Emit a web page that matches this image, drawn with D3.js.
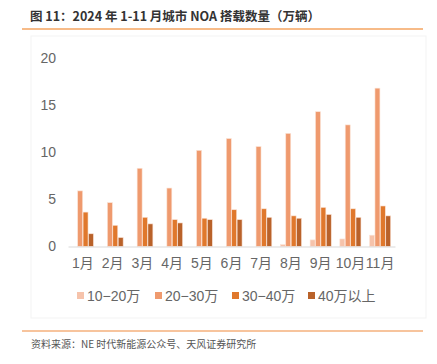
<!DOCTYPE html>
<html>
<head>
<meta charset="utf-8">
<script src="https://cdn.jsdelivr.net/npm/d3@7"></script>
<style>
  body { margin: 0; background: #fff; }
  svg { display: block; font-family: "Liberation Sans", Arial, "Noto Sans CJK SC", sans-serif; }
</style>
</head>
<body>
<svg id="chart" width="437" height="364"></svg>
<script>
const months = ["1月", "2月", "3月", "4月", "5月", "6月", "7月", "8月", "9月", "10月", "11月"];
const seriesNames = ["10−20万", "20−30万", "30−40万", "40万以上"];
const s10to20 = [0, 0, 0, 0, 0, 0, 0, 0.2, 0.7, 0.8, 1.2];
const s20to30 = [5.9, 4.65, 8.3, 6.2, 10.2, 11.45, 10.6, 12.0, 14.3, 12.9, 16.8];
const s30to40 = [3.65, 2.25, 3.1, 2.85, 3.0, 3.9, 4.0, 3.25, 4.15, 4.0, 4.3];
const s40plus = [1.35, 0.95, 2.4, 2.5, 2.85, 2.85, 3.1, 3.0, 3.4, 3.1, 3.25];
const yTicks = [0, 5, 10, 15, 20];
const colors = ["#f6c3ab", "#ef9a6e", "#e0782c", "#b9622a"];

const seriesVals = [s10to20, s20to30, s30to40, s40plus];
const svg = d3.select("#chart");
const textGray = "#666";
const mixedFont = "'Liberation Sans', Arial, 'Noto Sans CJK SC', sans-serif";

// title + rule
svg.append("text")
    .attr("x", 30).attr("y", 21)
    .attr("font-size", 12.5).attr("font-weight", "bold")
    .attr("fill", "#333")
    .attr("font-family", "'Noto Sans CJK SC', sans-serif")
    .text("图 11：2024 年 1-11 月城市 NOA 搭载数量（万辆）");
svg.append("line")
    .attr("x1", 22).attr("x2", 423).attr("y1", 29).attr("y2", 29)
    .attr("stroke", "#f5a460").attr("stroke-width", 1.5);

// faint chart area border
svg.append("rect")
    .attr("x", 31).attr("y", 36).attr("width", 395).attr("height", 282)
    .attr("fill", "none").attr("stroke", "#f3f3f3");

const x0 = d3.scaleBand().domain(months).range([68, 395]).paddingInner(0.26).paddingOuter(0.13);
const x1 = d3.scaleBand().domain(d3.range(4)).range([0, x0.bandwidth()]).padding(0.08);
const y = d3.scaleLinear().domain([0, 20]).range([246.5, 58]);

// y axis labels
const yAxis = svg.append("g")
    .attr("transform", "translate(56,0)")
    .call(d3.axisLeft(y).tickValues(yTicks).tickSize(0).tickPadding(0));
yAxis.select(".domain").remove();
yAxis.selectAll("text")
    .attr("font-size", 14).attr("fill", textGray)
    .attr("font-family", mixedFont);

// bars
const groups = svg.append("g").selectAll("g")
    .data(months).join("g")
    .attr("transform", d => `translate(${x0(d)},0)`);
groups.selectAll("rect")
    .data((d, i) => seriesVals.map((s, k) => ({ k, v: s[i] })))
    .join("rect")
    .filter(d => d.v > 0)
    .attr("x", d => x1(d.k))
    .attr("width", x1.bandwidth())
    .attr("y", d => y(d.v))
    .attr("height", d => y(0) - y(d.v))
    .attr("fill", d => colors[d.k])
    .attr("stroke", "#fbe3d6").attr("stroke-width", 0.6);

// x axis
const xAxis = svg.append("g")
    .attr("transform", `translate(0,${y(0)})`)
    .call(d3.axisBottom(x0).tickSize(0).tickPadding(12));
xAxis.select(".domain").attr("stroke", "#d9d9d9").attr("stroke-width", 1);
xAxis.selectAll("text")
    .attr("font-size", 14).attr("fill", textGray)
    .attr("font-family", mixedFont);

// legend
const legendX = [77, 155, 232, 308];
const legend = svg.append("g").selectAll("g")
    .data(seriesNames).join("g")
    .attr("transform", (d, i) => `translate(${legendX[i]},296)`);
legend.append("rect")
    .attr("x", 0).attr("y", -4).attr("width", 7).attr("height", 7)
    .attr("fill", (d, i) => colors[i]);
legend.append("text")
    .attr("x", 10).attr("y", 5)
    .attr("font-size", 14).attr("fill", textGray)
    .attr("font-family", mixedFont)
    .text(d => d);

// bottom rule + source
svg.append("line")
    .attr("x1", 22).attr("x2", 423).attr("y1", 331).attr("y2", 331)
    .attr("stroke", "#ef8a3c").attr("stroke-width", 1.2);
svg.append("text")
    .attr("x", 31).attr("y", 348)
    .attr("font-size", 10).attr("fill", "#555")
    .attr("font-family", "'Noto Sans CJK SC', sans-serif")
    .text("资料来源：NE 时代新能源公众号、天风证券研究所");
</script>
</body>
</html>
